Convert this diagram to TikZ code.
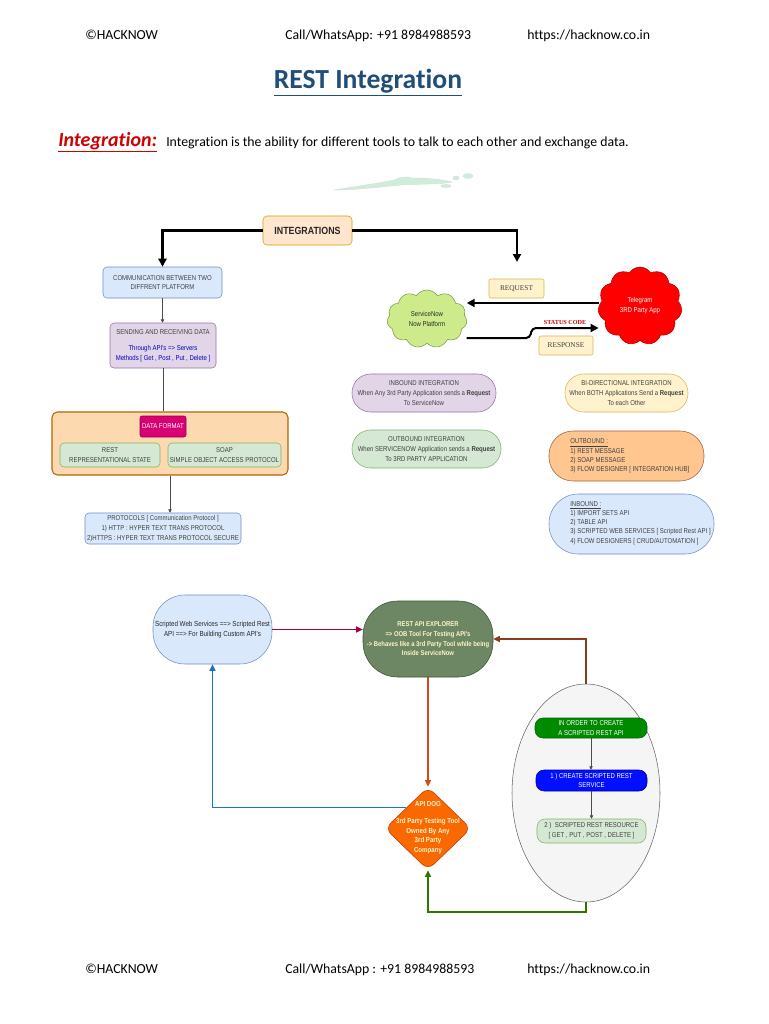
\documentclass[tikz,border=0pt]{standalone}
\usepackage{fontspec}
\setmainfont{Carlito}[RawFeature={-liga;-clig;-calt;-dlig}]
\newfontfamily\df[FakeStretch=0.85]{Liberation Sans}
\newfontfamily\dfserif{Liberation Serif}
\usetikzlibrary{arrows.meta,shapes.geometric,shapes.symbols}
\definecolor{tblue}{HTML}{1F4E79}
\definecolor{ired}{HTML}{D00000}
\definecolor{bluef}{HTML}{DAE8FC}\definecolor{bluel}{HTML}{6C8EBF}
\definecolor{purf}{HTML}{E1D5E7}\definecolor{purl}{HTML}{9673A6}
\definecolor{grnf}{HTML}{D5E8D4}\definecolor{grnl}{HTML}{82B366}
\definecolor{yelf}{HTML}{FFF2CC}\definecolor{yell}{HTML}{D6B656}
\definecolor{orf}{HTML}{FFE6CC}\definecolor{orl}{HTML}{D79B00}
\definecolor{dff}{HTML}{FDD9B0}\definecolor{dfl}{HTML}{B46504}
\definecolor{obf}{HTML}{FFC690}\definecolor{obl}{HTML}{A0603A}
\definecolor{magf}{HTML}{D80073}
\definecolor{snf}{HTML}{CDEB8B}\definecolor{snl}{HTML}{7A9A4A}
\definecolor{raef}{HTML}{6D8764}\definecolor{rael}{HTML}{3A5431}
\definecolor{dogf}{HTML}{FA6800}\definecolor{dogl}{HTML}{C73500}
\definecolor{paletxt}{HTML}{FFF6C8}
\definecolor{crim}{HTML}{A50040}
\definecolor{brn}{HTML}{8B3A1A}
\definecolor{orr}{HTML}{D04A1A}
\definecolor{bla}{HTML}{1B75BC}
\definecolor{gra}{HTML}{2D7600}
\definecolor{mint}{HTML}{CDEFDA}
\tikzset{
  sz/.style 2 args={minimum width=#1*0.75pt, minimum height=#2*0.75pt},
  base/.style={draw, inner sep=0pt, align=center, text=black!75,
    font=\df\fontsize{5.3}{7.3}\selectfont},
  bluebox/.style={base, fill=bluef, draw=bluel, rounded corners=3pt},
  purbox/.style={base, fill=purf, draw=purl, rounded corners=3pt},
  grnbox/.style={base, fill=grnf, draw=grnl, rounded corners=3pt},
  yelbox/.style={base, fill=yelf, draw=yell, rounded corners=1.5pt},
  listtext/.style={inner sep=0pt, anchor=west, align=left, text=black!75,
    font=\df\fontsize{5.3}{6.9}\selectfont},
  hdr/.style={inner sep=0pt, font=\fontsize{10.35}{12}\selectfont},
  bigarr/.style={line width=1.7pt, -{Triangle[length=6pt,width=6pt]}},
  thinarr/.style={line width=0.45pt, draw=black!70, -{Triangle[length=2.5pt,width=2.5pt]}},
  colarr/.style={line width=1.1pt, -{Triangle[length=5pt,width=4.5pt]}},
}
\begin{document}
\begin{tikzpicture}[x=0.75pt,y=-0.75pt]
\useasboundingbox[fill=white] (0,0) rectangle (768,1024);

% header
\node[hdr, anchor=base west] (h1) at (85,40) {©HACKNOW};
\node[hdr, anchor=base west] (h2) at (285,40) {Call/WhatsApp: +91 8984988593};
\node[hdr, anchor=base west] (h3) at (527,40) {https://hacknow.co.in};

% title
\node[inner sep=0pt, anchor=base, text=tblue, font=\fontsize{20.7}{24}\selectfont\bfseries] (title) at (368,89) {\underline{REST Integration}};

% integration definition
\node[inner sep=0pt, anchor=base west, text=ired, font=\fontsize{15}{18}\selectfont\bfseries\itshape] (intl) at (58,146) {\underline{Integration:}};
\node[hdr, anchor=base west] (intt) at (166,146) {Integration is the ability for different tools to talk to each other and exchange data.};

% decorative splash
\fill[mint, draw=black!15, line width=0.3pt] (334,190) .. controls (360,186) and (385,182) .. (395,180)
  .. controls (398,177) and (408,176) .. (412,178) .. controls (425,178) and (440,179) .. (452,182)
  .. controls (445,184) and (420,184) .. (400,185) .. controls (380,187) and (355,190) .. cycle;
\fill[mint, draw=black!15, line width=0.3pt] (446,186) ellipse (5 and 1.5);
\fill[mint, draw=black!15, line width=0.3pt] (456,178) ellipse (3 and 2);
\fill[mint, draw=black!15, line width=0.3pt] (468,176) ellipse (5 and 2.5);

% ---------- upper left column
\node[base, fill=orf, draw=orl, rounded corners=3pt, sz={89}{29}, text=black!85,
  font=\df\fontsize{7.8}{9}\selectfont\bfseries] (integ) at (307.5,230.5) {INTEGRATIONS};
\node[bluebox, sz={119}{31}] (comm) at (162.5,282.5) {COMMUNICATION BETWEEN TWO\\DIFFRENT PLATFORM};
\node[purbox, sz={106}{45}] (send) at (163,345.5) {SENDING AND RECEIVING DATA\\[5pt]
  \textcolor{blue!75!black}{Through API's => Servers}\\ \textcolor{blue!75!black}{Methods {[} Get , Post , Put , Delete ]}};
\node[base, fill=dff, draw=dfl, rounded corners=4pt, sz={236}{63}, line width=0.8pt] (dfbox) at (170,443.5) {};
\node[base, fill=magf, draw=magf!70!black, rounded corners=1.5pt, sz={46}{21}, text=white] (dflabel) at (163,426.5) {DATA FORMAT};
\node[grnbox, sz={100}{24}] (rest) at (110,455) {REST\\REPRESENTATIONAL STATE};
\node[grnbox, sz={113}{24}] (soap) at (224.5,455) {SOAP\\SIMPLE OBJECT ACCESS PROTOCOL};
\node[bluebox, sz={156}{31}] (proto) at (163,528.5) {PROTOCOLS {[} Communication Protocol ]\\1) HTTP : HYPER TEXT TRANS PROTOCOL\\2)HTTPS : HYPER TEXT TRANS PROTOCOL SECURE};

\coordinate (rend) at (517,262);
\draw[bigarr] (integ.west) -| (comm.north);
\draw[bigarr] (integ.east) -| (rend);
\draw[thinarr] (comm.south) -- (comm.south |- send.north);
\draw[line width=0.45pt, draw=black!70] (send.south) -- (send.south |- dfbox.north);
\draw[thinarr] (dfbox.south) -- (dfbox.south |- proto.north);

% ---------- clouds
\node[base, cloud, cloud puffs=11, cloud puff arc=115, aspect=1.4, fill=snf, draw=snl, sz={80}{58}, text=black!85] (snow) at (427,319) {ServiceNow\\Now Platform};
\node[base, cloud, cloud puffs=11, cloud puff arc=115, aspect=1.1, fill=red, draw=red!70!black, sz={84}{78}, text=white] (tele) at (640,306) {Telegram\\3RD Party App};
\node[yelbox, sz={55}{19}, font=\dfserif\fontsize{5.5}{7}\selectfont] (req) at (516.5,288.5) {REQUEST};
\node[yelbox, sz={54}{19}, font=\dfserif\fontsize{5.5}{7}\selectfont] (resp) at (566,345.5) {RESPONSE};
\node[inner sep=0pt, text=red!80!black, font=\dfserif\fontsize{4.6}{6}\selectfont\bfseries] (stat) at (565,322) {STATUS CODE};
\draw[bigarr, line width=1.5pt] (tele.west |- 0,303) -- (snow.east |- 0,303);
\draw[bigarr, line width=1.5pt, rounded corners=3pt] (snow.east |- 0,338) -- (530,338) -- (532,328) -- (tele.west |- 0,328);

% ---------- integration types
\node[base, fill=purf, draw=purl, rounded corners=14pt, sz={144}{38}] (inb) at (424,393) {INBOUND INTEGRATION\\When Any 3rd Party Application sends a \textbf{Request}\\To ServiceNow};
\node[base, fill=yelf, draw=yell, rounded corners=14pt, sz={123}{38}] (bidi) at (626.5,393) {BI-DIRECTIONAL INTEGRATION\\When BOTH Applications Send a \textbf{Request}\\To each Other};
\node[base, fill=grnf, draw=grnl, rounded corners=14pt, sz={149}{38}] (outb) at (426.5,449) {OUTBOUND INTEGRATION\\When SERVICENOW Application sends a \textbf{Request}\\To 3RD PARTY APPLICATION};
\node[base, fill=obf, draw=obl, rounded corners=18pt, sz={155}{50}] (outl) at (626.5,456) {};
\node[listtext] (outlt) at (570,456) {\underline{OUTBOUND :}\\1) REST MESSAGE\\2) SOAP MESSAGE\\3) FLOW DESIGNER {[} INTEGRATION HUB]};
\node[base, fill=bluef, draw=bluel, rounded corners=22pt, sz={165}{60}] (inl) at (631.5,524) {};
\node[listtext] (inlt) at (570,523) {\underline{INBOUND :}\\1) IMPORT SETS API\\2) TABLE API\\3) SCRIPTED WEB SERVICES {[} Scripted Rest API ]\\4) FLOW DESIGNERS {[} CRUD/AUTOMATION ]};

% ---------- bottom part
\node[base, fill=bluef, draw=bluel, rounded corners=24pt, sz={119}{69}, text=black!85, font=\df\fontsize{5.5}{7.5}\selectfont] (sws) at (212.5,629.5) {Scripted Web Services ==> Scripted Rest\\API ==> For Building Custom API's};
\node[base, fill=raef, draw=rael, rounded corners=26pt, sz={130}{76}, text=paletxt, font=\df\fontsize{5.2}{7.3}\selectfont\bfseries] (rae) at (428,639) {REST API EXPLORER\\=> OOB Tool For Testing API's\\-> Behaves like a 3rd Party Tool while being\\Inside ServiceNow};
\node[diamond, draw=dogl, fill=dogf, rounded corners=6pt, inner sep=0pt, sz={86}{83}] (dog) at (428,828.5) {};
\node[inner sep=0pt, align=center, text=paletxt, font=\df\fontsize{5.4}{7.3}\selectfont\bfseries] (dogt) at (428,828) {API DOG\\[5pt]3rd Party Testing Tool\\Owned By Any\\3rd Party\\Company};
\node[ellipse, draw=black!60, fill=black!4, inner sep=0pt, sz={148}{218}] (ell) at (586,793) {};
\node[base, fill=green!54!black, draw=green!40!black, rounded corners=6pt, sz={112}{20}, text=white] (b1) at (591,728) {IN ORDER TO CREATE\\A SCRIPTED REST API};
\node[base, fill=blue!94!cyan, draw=blue!60!black, rounded corners=6pt, sz={111}{21}, text=white] (b2) at (591.5,780.5) {1 ) CREATE SCRIPTED REST\\SERVICE};
\node[base, fill=grnf, draw=grnl, rounded corners=6pt, sz={109}{24}] (b3) at (591.5,831) {2 )\ \ SCRIPTED REST RESOURCE\\{[} GET , PUT , POST , DELETE ]};
\draw[thinarr] (b1.south) -- (b1.south |- b2.north);
\draw[thinarr] (b2.south) -- (b2.south |- b3.north);

\coordinate (gturn) at (586,912);
\draw[colarr, crim] (sws.east) -- (sws.east -| rae.west);
\draw[colarr, brn] (ell.north) |- (rae.east);
\draw[colarr, orr] (rae.south) -- (dog.north);
\draw[colarr, bla] (dog.north west) -| (sws.south);
\draw[colarr, gra] (ell.south) -- (gturn) -| (dog.south);

% footer
\node[hdr, anchor=base west] (f1) at (85,973) {©HACKNOW};
\node[hdr, anchor=base west] (f2) at (285,973) {Call/WhatsApp : +91 8984988593};
\node[hdr, anchor=base west] (f3) at (527,973) {https://hacknow.co.in};
\end{tikzpicture}
\end{document}
